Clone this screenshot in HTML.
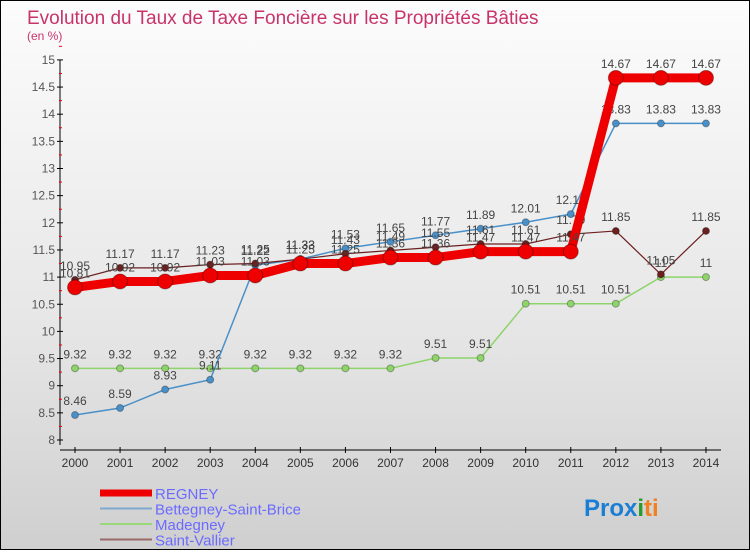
<!DOCTYPE html>
<html><head><meta charset="utf-8"><style>
body{margin:0;width:750px;height:550px;overflow:hidden;font-family:"Liberation Sans",sans-serif}
#wrap{position:relative;width:748px;height:548px;border:1px solid #000;background:linear-gradient(#fcfcfc,#e6e6e6 60%,#cfcfcf)}
</style></head><body>
<div id="wrap">
<svg id="c" width="748" height="548"></svg>
</div>
<script>
const years=[2000,2001,2002,2003,2004,2005,2006,2007,2008,2009,2010,2011,2012,2013,2014];
const regney=[10.81,10.92,10.92,11.03,11.03,11.25,11.25,11.36,11.36,11.47,11.47,11.47,14.67,14.67,14.67];
const bettegney=[8.46,8.59,8.93,9.11,11.22,11.33,11.53,11.65,11.77,11.89,12.01,12.16,13.83,13.83,13.83];
const madegney=[9.32,9.32,9.32,9.32,9.32,9.32,9.32,9.32,9.51,9.51,10.51,10.51,10.51,11,11];
const vallier=[10.95,11.17,11.17,11.23,11.25,11.33,11.43,11.49,11.55,11.61,11.61,11.79,11.85,11.05,11.85];
const yTicks=[8,8.5,9,9.5,10,10.5,11,11.5,12,12.5,13,13.5,14,14.5,15];
const NS="http://www.w3.org/2000/svg",svg=document.getElementById('c');
const X=i=>74+i*45.07, Y=v=>439-(v-8)*54.3;
function el(t,a,p){const e=document.createElementNS(NS,t);for(const k in a)e.setAttribute(k,a[k]);(p||svg).appendChild(e);return e;}
let t=el('text',{x:26,y:23,'font-size':19,fill:'#c8336a'});t.textContent='Evolution du Taux de Taxe Foncière sur les Propriétés Bâties';

t=el('text',{x:26,y:39,'font-size':12,fill:'#c8336a'});t.textContent='(en %)';

let a=el('line',{x1:59,y1:Y(15),x2:59,y2:444,stroke:'#000'});
a=el('line',{x1:59,y1:449,x2:720,y2:449,stroke:'#000'});
yTicks.forEach(v=>{el('line',{x1:56,x2:62,y1:Y(v),y2:Y(v),stroke:'#000'});
 el('line',{x1:58,x2:61,y1:Y(v+0.25),y2:Y(v+0.25),stroke:'#e00'});
 const l=el('text',{x:54,y:Y(v)+4,'font-size':12,fill:'#555','text-anchor':'end'});l.textContent=String(v);
 });
years.forEach((y,i)=>{el('line',{x1:X(i),x2:X(i),y1:446,y2:452,stroke:'#000'});
 const l=el('text',{x:X(i),y:466,'font-size':12,fill:'#333','text-anchor':'middle'});l.textContent=y;
 });
function series(d,color,w,r,name,lab){
 const g=el('g',{});
 el('polyline',{points:d.map((v,i)=>X(i)+','+Y(v)).join(' '),fill:'none',stroke:color,'stroke-width':w},g);
 d.forEach((v,i)=>{const c=el('circle',{cx:X(i),cy:Y(v),r:r,fill:color,stroke:'rgba(0,0,0,0.3)'},g);
  
  const l=el('text',{x:X(i),y:Y(v)-10,'font-size':12,fill:'#444','text-anchor':'middle'},g);l.textContent=String(v);
  });
}
series(madegney,'#8ed46b',1.5,3.5,'madegney');
series(bettegney,'#4a90c8',1.5,3.5,'bettegney');
series(vallier,'#6b1f1f',1.2,3.5,'saint-vallier');
series(regney,'#ee0000',9,7.5,'regney');
const legend=[['REGNEY','#ee0000',7],['Bettegney-Saint-Brice','#7fa9cc',2],['Madegney','#98d878',2],['Saint-Vallier','#9a6a6a',2]];
legend.forEach((e,i)=>{const y=492+i*15.5;const g=el('g',{});
 
 el('line',{x1:99,x2:151,y1:y,y2:y,stroke:e[1],'stroke-width':e[2]},g);
 const l=el('text',{x:154,y:y+6,'font-size':15,fill:'#6b6bff'},g);l.textContent=e[0];});
const lg=el('text',{x:583,y:515,'font-size':24,'font-weight':'bold'});
[['Pro','#1a7fd4'],['x','#1a7fd4'],['i','#2a9a2a'],['ti','#f08020']].forEach(p=>{const s=el('tspan',{fill:p[1]},lg);s.textContent=p[0];});
</script>
</body></html>
